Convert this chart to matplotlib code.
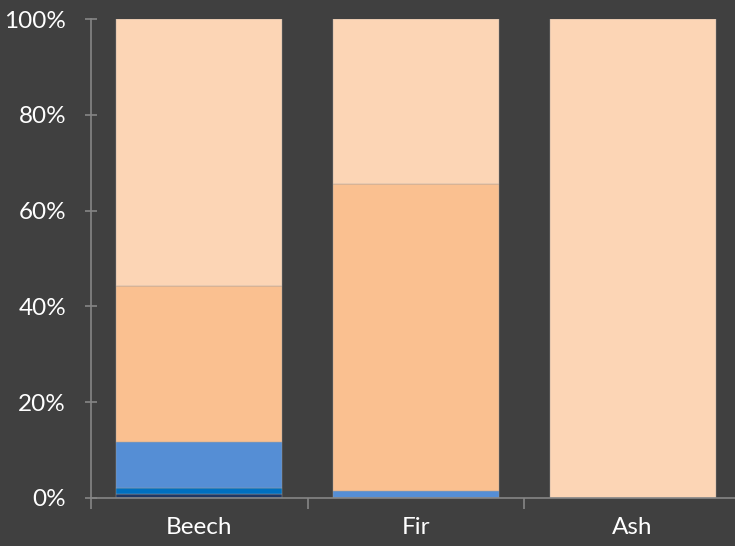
import matplotlib
matplotlib.use('Agg')
import matplotlib.pyplot as plt
import numpy as np

# %%
categories = ['Beech', 'Fir', 'Ash']
# shares in percent, bottom to top
series_1 = [0.8, 0.0, 0.0]
series_2 = [1.3, 0.0, 0.0]
series_3 = [9.6, 1.4, 0.0]
series_4 = [32.6, 64.2, 0.0]
series_5 = [55.7, 34.4, 100.0]
yticks = [0, 20, 40, 60, 80, 100]

colors = ['#1F3864', '#0070C0', '#558ED5', '#FAC090', '#FCD5B5']
bg = '#404040'
axis_grey = '#868686'

plt.rcParams['font.family'] = ['Lato', 'DejaVu Sans']

# %%
fig = plt.figure(figsize=(7.35, 5.46), dpi=100, facecolor=bg)
ax = fig.add_axes([91 / 735, 48 / 546, 650 / 735, 479 / 546])
ax.set_facecolor(bg)

x = np.arange(len(categories))
bottom = np.zeros(len(categories))
for vals, c in zip([series_1, series_2, series_3, series_4, series_5], colors):
    vals = np.array(vals)
    ax.bar(x, vals, bottom=bottom, width=0.765, color=c,
           edgecolor='#a0a0a0', linewidth=0.3)
    bottom += vals

ax.set_xlim(-0.5, 2.5)
ax.set_ylim(0, 100)
ax.set_yticks(yticks)
ax.set_yticklabels([f'{t}%' for t in yticks], color='white', fontsize=17.5)
ax.set_xticks(x)
ax.set_xticklabels(categories, color='white', fontsize=17.5)
ax.set_xticks([-0.5, 0.5, 1.5, 2.5], minor=True)
ax.tick_params(axis='x', which='major', length=0, pad=14)
ax.tick_params(axis='x', which='minor', length=8, width=1.2, color=axis_grey, direction='out')
ax.tick_params(axis='y', length=8, width=1.2, color=axis_grey, direction='inout', pad=14)

for s in ['top', 'right']:
    ax.spines[s].set_visible(False)
for s in ['left', 'bottom']:
    ax.spines[s].set_color(axis_grey)
    ax.spines[s].set_linewidth(1.2)
ax.spines['bottom'].set_zorder(5)

fig.savefig('out.png', dpi=100, facecolor=bg)
